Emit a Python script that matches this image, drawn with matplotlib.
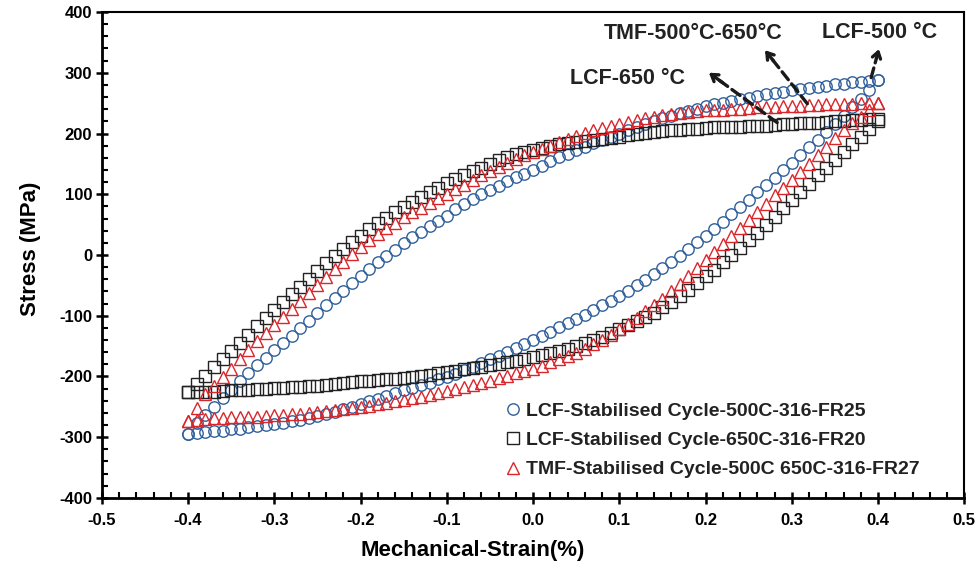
import matplotlib
matplotlib.use("Agg")
import matplotlib.pyplot as plt
from matplotlib.ticker import MultipleLocator

plt.rcParams["font.family"] = ["Liberation Sans", "DejaVu Sans"]
plt.rcParams["font.weight"] = "bold"
plt.rcParams["axes.unicode_minus"] = False  # plain hyphen for negatives

# strain (%) at which the stabilised loops were read, ascending
strain = [-0.40, -0.39, -0.38, -0.37, -0.36, -0.35, -0.34, -0.33, -0.32, -0.31,
          -0.30, -0.29, -0.28, -0.27, -0.26, -0.25, -0.24, -0.23, -0.22, -0.21,
          -0.20, -0.19, -0.18, -0.17, -0.16, -0.15, -0.14, -0.13, -0.12, -0.11,
          -0.10, -0.09, -0.08, -0.07, -0.06, -0.05, -0.04, -0.03, -0.02, -0.01,
          0.00, 0.01, 0.02, 0.03, 0.04, 0.05, 0.06, 0.07, 0.08, 0.09,
          0.10, 0.11, 0.12, 0.13, 0.14, 0.15, 0.16, 0.17, 0.18, 0.19,
          0.20, 0.21, 0.22, 0.23, 0.24, 0.25, 0.26, 0.27, 0.28, 0.29,
          0.30, 0.31, 0.32, 0.33, 0.34, 0.35, 0.36, 0.37, 0.38, 0.39, 0.40]

# LCF 500C: lower = tension-going branch, upper = compression-going branch (MPa)
lcf500_lower = [-294, -293, -292, -290, -289, -287, -286, -284, -282, -280,
                -278, -276, -273, -271, -268, -265, -262, -258, -254, -250,
                -246, -241, -237, -232, -228, -223, -219, -214, -210, -205,
                -201, -196, -190, -184, -178, -172, -166, -160, -153, -147,
                -140, -133, -126, -119, -112, -105, -98, -91, -83, -75,
                -67, -59, -50, -41, -31, -21, -11, -1, 10, 21,
                32, 43, 55, 67, 79, 91, 103, 115, 127, 140,
                152, 164, 177, 189, 202, 215, 229, 243, 257, 272, 288]
lcf500_upper = [-294, -276, -263, -250, -236, -222, -208, -195, -181, -169,
                -157, -145, -133, -120, -108, -95, -83, -71, -59, -46,
                -34, -23, -12, -2, 8, 19, 29, 38, 47, 56,
                65, 75, 84, 92, 100, 107, 114, 121, 128, 134,
                140, 147, 154, 161, 167, 173, 178, 184, 190, 195,
                200, 205, 210, 215, 220, 225, 229, 233, 237, 241,
                245, 248, 251, 254, 256, 259, 262, 265, 267, 269,
                271, 273, 275, 277, 279, 281, 282, 284, 285, 287, 288]

# LCF 650C
lcf650_lower = [-226, -226, -225, -225, -224, -223, -222, -222, -221, -220,
                -219, -219, -218, -217, -216, -215, -214, -212, -211, -209,
                -208, -207, -206, -205, -204, -202, -201, -199, -197, -195,
                -193, -191, -188, -186, -184, -181, -179, -176, -174, -171,
                -168, -165, -161, -158, -154, -150, -145, -140, -135, -129,
                -122, -116, -109, -102, -95, -86, -77, -67, -57, -46,
                -35, -24, -12, 0, 12, 24, 37, 50, 63, 77,
                90, 104, 117, 131, 144, 157, 170, 183, 195, 208, 221]
lcf650_upper = [-226, -212, -199, -185, -172, -158, -145, -131, -117, -103,
                -90, -77, -65, -52, -40, -27, -14, -2, 10, 21,
                32, 42, 52, 61, 70, 79, 87, 95, 103, 111,
                118, 125, 132, 138, 144, 150, 156, 161, 166, 170,
                173, 176, 179, 182, 184, 186, 188, 190, 191, 193,
                195, 197, 199, 201, 202, 204, 205, 206, 207, 208,
                209, 210, 210, 211, 211, 212, 212, 213, 214, 215,
                216, 217, 217, 218, 219, 220, 221, 222, 223, 224, 224]

# TMF 500C-650C
tmf_lower = [-274, -271, -270, -269, -268, -267, -267, -266, -266, -265,
             -264, -263, -262, -261, -260, -258, -257, -255, -254, -252,
             -250, -248, -246, -243, -241, -238, -236, -233, -230, -227,
             -224, -221, -218, -214, -210, -207, -203, -199, -195, -191,
             -187, -182, -177, -172, -167, -161, -154, -147, -140, -131,
             -122, -113, -103, -93, -83, -72, -60, -47, -34, -22,
             -9, 5, 18, 31, 44, 57, 70, 84, 98, 111,
             124, 137, 150, 164, 178, 192, 205, 217, 228, 239, 250]
tmf_upper = [-273, -252, -229, -215, -201, -187, -172, -157, -142, -128,
             -115, -102, -89, -75, -62, -49, -36, -23, -11, 1,
             13, 24, 34, 44, 53, 62, 70, 78, 86, 94,
             101, 109, 116, 124, 131, 138, 145, 152, 158, 164,
             169, 175, 180, 186, 191, 196, 201, 205, 209, 213,
             216, 219, 222, 225, 228, 230, 232, 234, 235, 237,
             238, 239, 239, 240, 241, 242, 243, 244, 244, 245,
             246, 246, 247, 247, 248, 248, 249, 249, 250, 250, 250]

labels = ["LCF-Stabilised Cycle-500C-316-FR25",
          "LCF-Stabilised Cycle-650C-316-FR20",
          "TMF-Stabilised Cycle-500C 650C-316-FR27"]

fig = plt.figure(figsize=(9.79, 5.73), dpi=100)
ax = fig.add_axes([0.104, 0.131, 0.881, 0.848])

# each loop: go up along the lower branch, come back along the upper one
loop_x = strain + strain[::-1]
series = [
    (lcf500_lower + lcf500_upper[::-1], "o", "#2f5f9c", 8.2),
    (lcf650_lower + lcf650_upper[::-1], "s", "#222222", 8.2),
    (tmf_lower + tmf_upper[::-1], "^", "#d9262b", 8.6),
]
for (y, mk, col, ms), lab in zip(series, labels):
    ax.plot(loop_x, y, linestyle="none", marker=mk, markersize=ms,
            markerfacecolor="none", markeredgecolor=col, markeredgewidth=1.0,
            label=lab)

ax.set_xlim(-0.5, 0.5)
ax.set_ylim(-400, 400)
ax.xaxis.set_major_locator(MultipleLocator(0.1))
ax.xaxis.set_minor_locator(MultipleLocator(0.02))
ax.yaxis.set_major_locator(MultipleLocator(100))
ax.yaxis.set_minor_locator(MultipleLocator(20))
ax.tick_params(which="major", direction="inout", length=8, width=1.8, labelsize=12)
ax.tick_params(axis="x", which="major", pad=7)
ax.tick_params(axis="y", which="major", pad=3)
ax.tick_params(which="minor", direction="in", length=4, width=1.5)
ax.tick_params(top=False, right=False, which="both")
for lab in ax.get_xticklabels() + ax.get_yticklabels():
    lab.set_fontweight("bold")
for s in ["left", "bottom"]:
    ax.spines[s].set_linewidth(2.0)
for s in ["top", "right"]:
    ax.spines[s].set_linewidth(1.5)

ax.set_xlabel("Mechanical-Strain(%)", fontsize=16, fontweight="bold")
ax.set_ylabel("Stress (MPa)", fontsize=16, fontweight="bold")
ax.xaxis.set_label_coords(0.43, -0.086)
ax.yaxis.set_label_coords(-0.071, 0.512)

# dashed arrows pointing at the labels: (tail, tip)
arrows = [((0.283, 218), (0.204, 300)),
          ((0.318, 249), (0.269, 337)),
          ((0.392, 292), (0.401, 339))]
for (x0, y0), (x1, y1) in arrows:
    ax.annotate("", xy=(x1, y1), xytext=(x0, y0),
                arrowprops=dict(arrowstyle="-", linestyle=(0, (3, 1.6)),
                                color="#1a1a1a", lw=2.4, shrinkA=0, shrinkB=2))
    ax.annotate("", xy=(x1, y1), xytext=(x1 - 0.2 * (x1 - x0), y1 - 0.2 * (y1 - y0)),
                arrowprops=dict(arrowstyle="->,head_length=0.45,head_width=0.3",
                                color="#1a1a1a", lw=2.4, shrinkA=0, shrinkB=0))

ax.text(0.11, 291, "LCF-650 °C", fontsize=15.5, fontweight="bold", ha="center", va="center", color="#222222")
ax.text(0.186, 364, "TMF-500°C-650°C", fontsize=15.5, fontweight="bold", ha="center", va="center", color="#222222")
ax.text(0.402, 367, "LCF-500 °C", fontsize=15.5, fontweight="bold", ha="center", va="center", color="#222222")

leg = ax.legend(loc="upper left", bbox_to_anchor=(0.46, 0.213), frameon=False,
                handlelength=0.7, handletextpad=0.3, labelspacing=0.6,
                borderaxespad=0, prop={"size": 14, "weight": "bold"})
for t in leg.get_texts():
    t.set_color("#222222")

fig.savefig("out.png", dpi=100)
